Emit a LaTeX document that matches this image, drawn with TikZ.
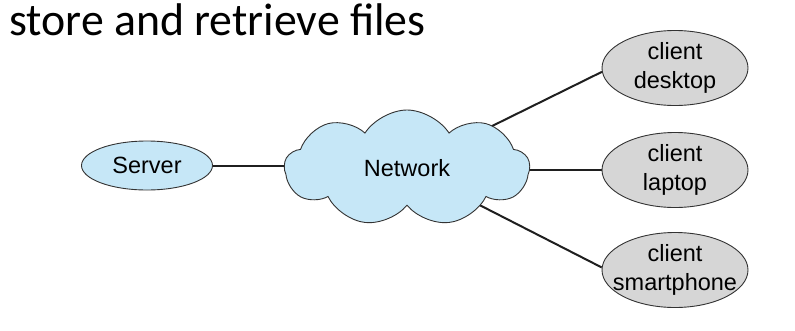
\documentclass[tikz,border=0pt]{standalone}
\usepackage{fontspec}
\setmainfont{Liberation Sans}
\newfontfamily\titlefont{Carlito}
\usetikzlibrary{shapes.geometric,shapes.symbols,backgrounds}
\definecolor{netblue}{HTML}{C6E7F7}
\definecolor{cligray}{HTML}{D6D6D6}
\definecolor{edge}{HTML}{333333}
\tikzset{
  nodefont/.style={font=\fontsize{23.5}{29.5}\selectfont},
  srvbox/.style={ellipse, draw=edge, line width=0.9pt, fill=netblue, minimum width=131pt, minimum height=49pt, inner sep=0pt, nodefont},
  clibox/.style={ellipse, draw=edge, line width=0.9pt, fill=cligray, minimum width=146pt, minimum height=75pt, inner xsep=-22pt, inner ysep=0pt, align=center, nodefont},
  netbox/.style={cloud, cloud puffs=9, cloud puff arc=115, cloud ignores aspect, draw=edge, line width=0.9pt, fill=netblue, minimum width=245pt, minimum height=116pt, inner sep=0pt, nodefont},
  link/.style={draw=black!88, line width=2pt}
}
\begin{document}
\begin{tikzpicture}[x=1pt,y=-1pt]
\useasboundingbox (0,0) rectangle (795,330);
\node[anchor=base west, inner sep=0pt, font=\titlefont\fontsize{45.8}{55}\selectfont] (title) at (9,35) {store and retrieve files};
\node[srvbox] (srv) at (147,165.5) {Server};
\node[netbox] (net) at (407,168) {Network};
\node[clibox] (desk) at (675,68) {client\\desktop};
\node[clibox] (lap) at (675,170) {client\\laptop};
\node[clibox] (sp) at (675,270) {client\\smartphone};
\begin{scope}[on background layer]
\draw[link] (srv.east) -- (srv.east -| net.center);
\draw[link] (net.center) -- (desk.183);
\draw[link] (lap.west) -- (lap.west -| net.center);
\draw[link] (net.center) -- (sp.178);
\end{scope}
\end{tikzpicture}
\end{document}
